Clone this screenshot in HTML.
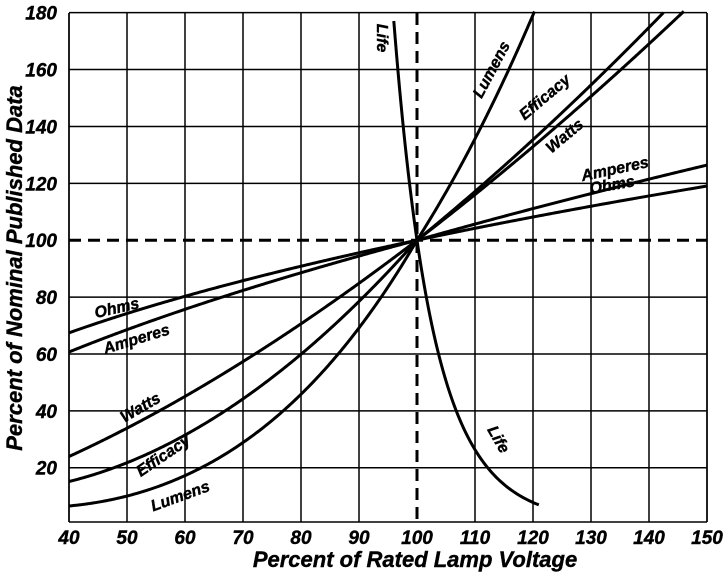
<!DOCTYPE html>
<html><head><meta charset="utf-8"><style>
html,body{margin:0;padding:0;background:#fff;}
svg{display:block;}
text{font-family:"Liberation Sans Narrow","Liberation Sans",sans-serif;font-weight:bold;font-style:italic;fill:#000;stroke:#000;stroke-width:0.4;}
</style></head><body>
<svg id="s" width="725" height="574" viewBox="0 0 725 574" xmlns="http://www.w3.org/2000/svg">
<g id="grid" stroke="#000" stroke-width="1.5" fill="none"></g>
<g id="curves" stroke="#000" stroke-width="3" fill="none"></g>
<g font-size="19" text-anchor="end" id="ylab"></g>
<g font-size="19" text-anchor="middle" id="xlab"></g>
<text x="415" y="567" font-size="22" text-anchor="middle">Percent of Rated Lamp Voltage</text>
<text transform="translate(22,268) rotate(-90)" font-size="22" text-anchor="middle">Percent of Nominal Published Data</text>
<g font-size="16" text-anchor="middle">
<text transform="translate(377,38) rotate(90)">Life</text>
<text transform="translate(494,442) rotate(60)">Life</text>
<text transform="translate(496,72) rotate(-62)">Lumens</text>
<text transform="translate(548,101) rotate(-40)">Efficacy</text>
<text transform="translate(568,140) rotate(-40)">Watts</text>
<text transform="translate(616,174) rotate(-12)">Amperes</text>
<text transform="translate(613,190) rotate(-10)">Ohms</text>
<text transform="translate(118,313) rotate(-13)">Ohms</text>
<text transform="translate(138,344) rotate(-17)">Amperes</text>
<text transform="translate(143,412) rotate(-30)">Watts</text>
<text transform="translate(166,460) rotate(-34)">Efficacy</text>
<text transform="translate(182,501) rotate(-20)">Lumens</text>
</g>
</svg>
<script>
var NS="http://www.w3.org/2000/svg";
function X(v){return 69+(v-40)*5.8;}
function Y(v){return 524.6-v*2.844;}
var g=document.getElementById('grid');
function el(p,tag,a){var e=document.createElementNS(NS,tag);for(var k in a)e.setAttribute(k,a[k]);p.appendChild(e);return e;}
for(var v=40;v<=150;v+=10){ if(v!=100) el(g,'line',{x1:X(v),x2:X(v),y1:13,y2:522}); }
for(var v=20;v<=180;v+=20){ if(v!=100) el(g,'line',{x1:69,x2:707,y1:Y(v),y2:Y(v)}); }
el(g,'line',{x1:69,x2:69,y1:13,y2:522});
el(g,'line',{x1:69,x2:707,y1:522,y2:522});
el(g,'line',{x1:707,x2:707,y1:13,y2:522});
el(g,'line',{x1:X(100),x2:X(100),y1:13,y2:522,'stroke-width':3,'stroke-dasharray':'12,7'});
el(g,'line',{x1:69,x2:707,y1:Y(100),y2:Y(100),'stroke-width':3,'stroke-dasharray':'12,7'});
var yl=document.getElementById('ylab');
for(var v=20;v<=180;v+=20){var t=el(yl,'text',{x:57,y:Y(v)+7});t.textContent=v;}
var xl=document.getElementById('xlab');
for(var v=40;v<=150;v+=10){var t=el(xl,'text',{x:X(v),y:544});t.textContent=v;}
var c=document.getElementById('curves');
function curve(f,a,b){var d='';for(var v=a;v<=b+1e-9;v+=0.25){var y=f(v/100)*100;if(y>180.5)continue;d+=(d?'L':'M')+X(v).toFixed(2)+','+Y(y).toFixed(2);}el(c,'path',{d:d});}
curve(function(r){return r<1?Math.pow(r,3.5)+0.025*Math.pow((1-r)/0.6,4):Math.pow(r,3.2);},40,150);
curve(function(r){return r<1?Math.pow(r,2.3)+0.03*Math.pow((1-r)/0.6,4):Math.pow(r,1.66);},40,150);
curve(function(r){return Math.pow(r,1.56);},40,150);
curve(function(r){return Math.pow(r,r<1?0.545:0.578);},40,150);
curve(function(r){return Math.pow(r,0.43);},40,150);
curve(function(r){return Math.pow(r,-14);},90,121.2);
</script>
</body></html>
